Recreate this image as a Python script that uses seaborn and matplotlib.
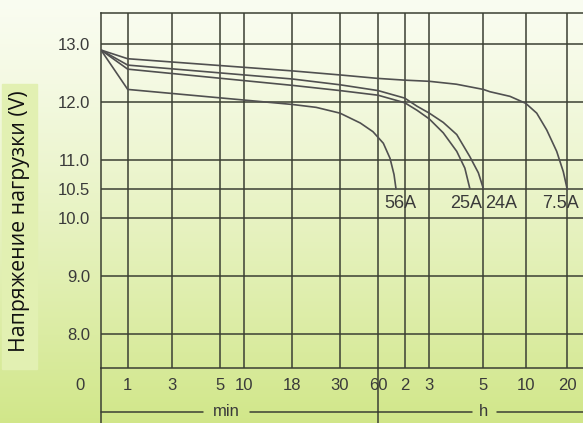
import numpy as np
import pandas as pd
import matplotlib
matplotlib.use("Agg")
import matplotlib.pyplot as plt
import seaborn as sns
from matplotlib.patches import Rectangle

# printed time axis: minutes -> horizontal offset (px) on the original sheet
scale_min = [0, 1, 3, 5, 10, 18, 30, 60, 120, 180, 300, 600, 1200, 2400]
scale_pos = [0, 26.7, 71.3, 119.3, 143.3, 191.3, 239, 277, 303.7, 328.3, 382.3, 424.7, 466.3, 549.5]

x_ticks = [1, 3, 5, 10, 18, 30, 60, 120, 180, 300, 600, 1200]
x_labels = ["1", "3", "5", "10", "18", "30", "60", "2", "3", "5", "10", "20"]
y_ticks = [8.0, 9.0, 10.0, 10.5, 11.0, 12.0, 13.0]
y_labels = ["8.0", "9.0", "10.0", "10.5", "11.0", "12.0", "13.0"]

# discharge curves, time in minutes / voltage
t_75 = [0, 1, 18, 30, 60, 120, 180, 240, 300, 347, 489, 600, 759, 903, 1047, 1142, 1200]
v_75 = [12.90, 12.75, 12.54, 12.47, 12.41, 12.38, 12.36, 12.31, 12.22, 12.18, 12.10, 11.98, 11.81, 11.52, 11.15, 10.80, 10.49]

t_24 = [0, 1, 18, 30, 60, 120, 150, 180, 211, 241, 270, 289, 300]
v_24 = [12.90, 12.64, 12.40, 12.30, 12.20, 12.07, 11.93, 11.81, 11.65, 11.44, 11.06, 10.78, 10.51]

t_25 = [0, 1, 18, 30, 60, 120, 150, 180, 211, 241, 259, 270]
v_25 = [12.90, 12.57, 12.29, 12.20, 12.12, 11.99, 11.86, 11.71, 11.47, 11.15, 10.86, 10.51]

t_56 = [0, 1, 18, 24, 30, 46, 56, 72, 87, 96, 100.5]
v_56 = [12.90, 12.22, 11.96, 11.91, 11.81, 11.64, 11.49, 11.29, 11.03, 10.75, 10.50]

curve_names = ["7.5A", "24A", "25A", "56A"]
label_shift = [-7, 18, -4, 4]   # px, label centre relative to curve end

frames = []
for name, t, v in zip(curve_names, [t_75, t_24, t_25, t_56], [v_75, v_24, v_25, v_56]):
    frames.append(pd.DataFrame({"t": t, "v": v, "current": name}))
df = pd.concat(frames, ignore_index=True)

sns.set_style("white")
plt.rcParams["font.family"] = ["Liberation Sans", "DejaVu Sans"]

grid_c = "#3b3f33"
text_c = "#3a3a3a"

fig = plt.figure(figsize=(5.83, 4.23), dpi=100)

# background gradient
bg = fig.add_axes([0, 0, 1, 1], zorder=-5)
top = np.array([0.98, 0.99, 0.945])
bot = np.array([0.82, 0.905, 0.54])
k = np.linspace(0, 1, 256)[:, None, None] ** 1.2
grad = top + (bot - top) * k
bg.imshow(np.repeat(grad, 2, axis=1), aspect="auto", extent=[0, 1, 0, 1])
bg.axis("off")

# y-label box
fig.patches.append(Rectangle((2 / 583, 54 / 423), 35 / 583, 285 / 423,
                             transform=fig.transFigure, color="#e2f0b2", zorder=-1))
fig.text(20 / 583, 1 - 221 / 423, "Напряжение нагрузки (V)", rotation=90,
         ha="center", va="center", fontsize=15.3, family=["Open Sans", "DejaVu Sans"], color="#111111")

ax = fig.add_axes([101 / 583, 54.7 / 423, 482 / 583, 355.6 / 423])
ax.patch.set_alpha(0)

fwd = lambda t: np.interp(t, scale_min, scale_pos)
inv = lambda p: np.interp(p, scale_pos, scale_min)
ax.set_xscale("function", functions=(fwd, inv))

sns.lineplot(data=df, x="t", y="v", units="current", estimator=None, sort=False,
             color="#505050", linewidth=1.2, ax=ax, zorder=3)

ax.set_xlim(0, float(inv(482)))
ax.set_ylim(7.403, 13.545)
ax.set_xticks(x_ticks)
ax.set_xticklabels(x_labels)
ax.set_yticks(y_ticks)
ax.set_yticklabels(y_labels)
ax.tick_params(axis="both", length=0, labelsize=12, colors=text_c)
ax.tick_params(axis="x", pad=7)
ax.tick_params(axis="y", pad=8)
ax.set_xlabel("")
ax.set_ylabel("")
ax.grid(True, color=grid_c, linewidth=1.1)
for s in ["left", "top", "bottom"]:
    ax.spines[s].set_color(grid_c)
    ax.spines[s].set_linewidth(1.1)
ax.spines["right"].set_visible(False)

# current labels at curve ends
for name, t, shift in zip(curve_names, [t_75, t_24, t_25, t_56], label_shift):
    ax.annotate(name, xy=(t[-1], 10.25), xytext=(shift, 0), textcoords="offset pixels",
                ha="center", va="center", fontsize=13, color=text_c, zorder=4)

# origin label, extended axis lines and min / h scale bar
fig.text(80 / 583, 1 - 385 / 423, "0", ha="center", va="center", fontsize=12, color=text_c)
xt = ax.get_xaxis_transform()
for xv in [0, 60]:
    ax.plot([xv, xv], [-0.16, 0], transform=xt, color=grid_c, lw=1.1, clip_on=False)
yb = -0.122
for x0, x1 in [(0, 0.2116), (0.309, 0.5747), (0.5747, 0.769), (0.821, 1.0)]:
    ax.plot([x0, x1], [yb, yb], transform=ax.transAxes, color=grid_c, lw=1.1, clip_on=False)
ax.text(0.261, yb, "min", transform=ax.transAxes, ha="center", va="center", fontsize=12, color=text_c)
ax.text(0.7936, yb, "h", transform=ax.transAxes, ha="center", va="center", fontsize=12, color=text_c)

fig.savefig("out.png", dpi=100)
